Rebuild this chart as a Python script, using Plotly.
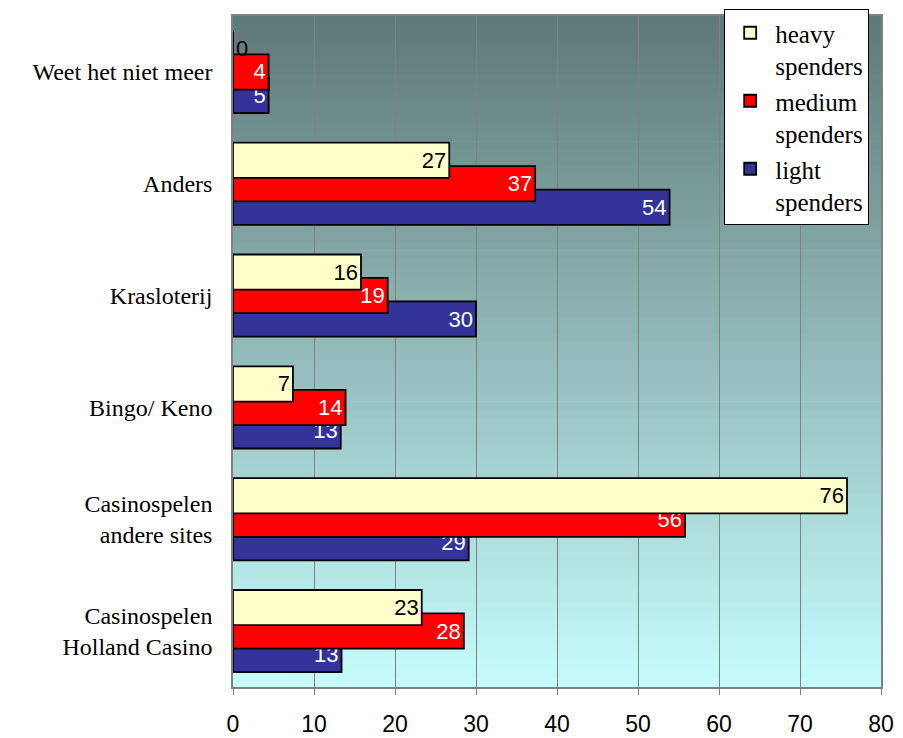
import plotly.graph_objects as go

categories = ["Casinospelen<br>Holland Casino", "Casinospelen<br>andere sites", "Bingo/ Keno",
              "Krasloterij", "Anders", "Weet het niet meer"]
heavy = [23.3, 75.8, 7.4, 15.8, 26.7, 0]
medium = [28.5, 55.8, 13.9, 19.1, 37.3, 4.4]
light = [13.4, 29.1, 13.3, 30.0, 53.9, 4.4]
heavy_labels = ["23", "76", "7", "16", "27", "0"]
medium_labels = ["28", "56", "14", "19", "37", "4"]
light_labels = ["13", "29", "13", "30", "54", "5"]
x_ticks = [0, 10, 20, 30, 40, 50, 60, 70, 80]

NUM_FONT = "Liberation Sans, Arial"
SERIF = "Liberation Serif, Times New Roman, serif"

W = 0.315
fig = go.Figure()
series = [
    ("light<br>spenders", light, light_labels, "#333399", "white", -0.21),
    ("medium<br>spenders", medium, medium_labels, "#FF0000", "white", 0.0),
    ("heavy<br>spenders", heavy, heavy_labels, "#FFFFCC", "black", 0.21),
]
for name, vals, labs, col, tcol, shift in series:
    pos = ["inside" if v > 0 else "outside" for v in vals]
    fig.add_trace(go.Bar(
        y=categories, x=vals, orientation="h", name=name,
        text=labs, textposition=pos, insidetextanchor="end", constraintext="none",
        textfont=dict(family=NUM_FONT, size=22, color=tcol),
        outsidetextfont=dict(family=NUM_FONT, size=22, color="black"),
        marker=dict(color=col, line=dict(color="black", width=1.8)),
        width=W, offset=shift - W / 2, cliponaxis=False,
    ))

# gradient background strips
top = (0x5E, 0x79, 0x78)
bot = (0xC6, 0xFC, 0xFC)
N = 80
shapes = []
for i in range(N):
    t = i / (N - 1)
    c = tuple(round(top[k] + (bot[k] - top[k]) * t) for k in range(3))
    shapes.append(dict(type="rect", xref="x domain", yref="y domain",
                       x0=0, x1=1, y0=1 - (i + 1) / N, y1=1 - i / N + 0.001,
                       fillcolor="rgb(%d,%d,%d)" % c, line=dict(width=0), layer="below"))

fig.update_layout(
    width=895, height=730,
    margin=dict(l=225, r=22, t=8, b=51, autoexpand=False),
    barmode="overlay",
    paper_bgcolor="white", plot_bgcolor="rgba(0,0,0,0)",
    shapes=shapes,
    showlegend=True,
    legend=dict(x=0.758, y=0.9986, xanchor="left", yanchor="top", yref="container",
                bgcolor="white", bordercolor="black", borderwidth=1,
                traceorder="reversed", valign="top",
                font=dict(family=SERIF, size=25, color="black"),
                tracegroupgap=0, itemwidth=40),
    xaxis=dict(range=[0, 80], tickvals=x_ticks, showgrid=True, gridcolor="#808080", gridwidth=1,
               showline=True, linecolor="#808080", linewidth=1.5, mirror=True,
               ticks="outside", ticklen=6, tickcolor="#808080", ticklabelstandoff=10,
               tickfont=dict(family=NUM_FONT, size=23, color="black"),
               zeroline=False, fixedrange=True),
    yaxis=dict(showgrid=False, showline=True, linecolor="#808080", linewidth=1.5, mirror=True,
               ticks="", ticklabelstandoff=14,
               tickfont=dict(family=SERIF, size=24, color="black"),
               range=[-0.5, 5.5], fixedrange=True),
)
fig.write_html("out.html")
